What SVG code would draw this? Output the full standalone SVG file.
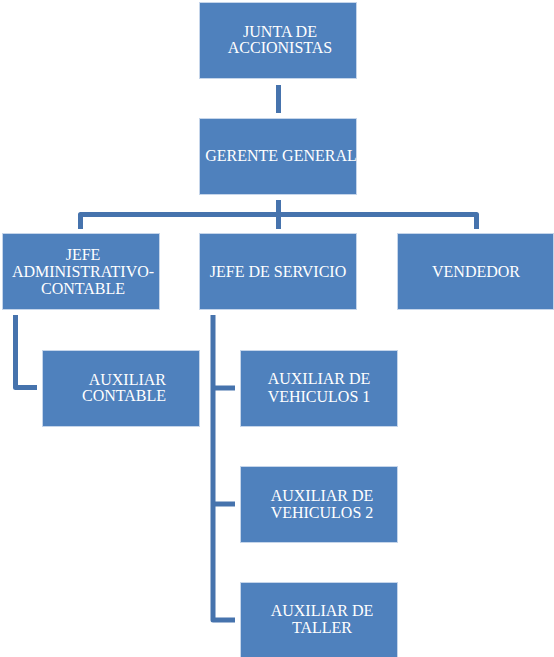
<svg xmlns="http://www.w3.org/2000/svg" width="554" height="657" viewBox="0 0 554 657">
<style>
.box{fill:#4f81bd;stroke:#c5d5ea;stroke-width:1}
.t{font-family:'Liberation Serif','Times New Roman','DejaVu Serif',serif;font-size:16px;fill:#ffffff;text-anchor:middle}
.c{fill:none;stroke:#4673ad;stroke-width:5;stroke-linejoin:round}
</style>
<rect width="554" height="657" fill="#ffffff"/>
<g id="connectors">
<path class="c" d="M278.5 85 V113"/>
<path class="c" d="M80.5 229 V214.5 H476.5 V229"/>
<path class="c" d="M278.5 200 V229"/>
<path class="c" d="M15.5 315 V387.5 H37"/>
<path class="c" d="M213 315 V620 H235"/>
<path class="c" d="M213 388 H235"/>
<path class="c" d="M213 504 H235"/>
</g>
<g id="junta">
<rect class="box" x="199.5" y="2.5" width="157" height="76"/>
<text class="t" x="280" y="37">JUNTA DE</text>
<text class="t" x="280" y="53">ACCIONISTAS</text>
</g>
<g id="gerente">
<rect class="box" x="199.5" y="118.5" width="157" height="76"/>
<text class="t" x="281" y="161">GERENTE GENERAL</text>
</g>
<g id="jefe-admin">
<rect class="box" x="2.5" y="233.5" width="157" height="76"/>
<text class="t" x="83" y="260">JEFE</text>
<text class="t" x="83" y="277">ADMINISTRATIVO-</text>
<text class="t" x="83" y="294">CONTABLE</text>
</g>
<g id="jefe-servicio">
<rect class="box" x="199.5" y="233.5" width="157" height="76"/>
<text class="t" x="278" y="277">JEFE DE SERVICIO</text>
</g>
<g id="vendedor">
<rect class="box" x="397.5" y="233.5" width="156" height="76"/>
<text class="t" x="476" y="277">VENDEDOR</text>
</g>
<g id="aux-contable">
<rect class="box" x="42.5" y="350.5" width="157" height="76"/>
<text class="t" x="166" y="385" style="text-anchor:end">AUXILIAR</text>
<text class="t" x="166" y="401" style="text-anchor:end">CONTABLE</text>
</g>
<g id="aux-vehiculos-1">
<rect class="box" x="240.5" y="350.5" width="157" height="76"/>
<text class="t" x="319" y="384">AUXILIAR DE</text>
<text class="t" x="319" y="402">VEHICULOS 1</text>
</g>
<g id="aux-vehiculos-2">
<rect class="box" x="240.5" y="466.5" width="157" height="76"/>
<text class="t" x="322" y="501">AUXILIAR DE</text>
<text class="t" x="322" y="518">VEHICULOS 2</text>
</g>
<g id="aux-taller">
<rect class="box" x="240.5" y="582.5" width="157" height="76"/>
<text class="t" x="322" y="616">AUXILIAR DE</text>
<text class="t" x="322" y="633">TALLER</text>
</g>
</svg>
